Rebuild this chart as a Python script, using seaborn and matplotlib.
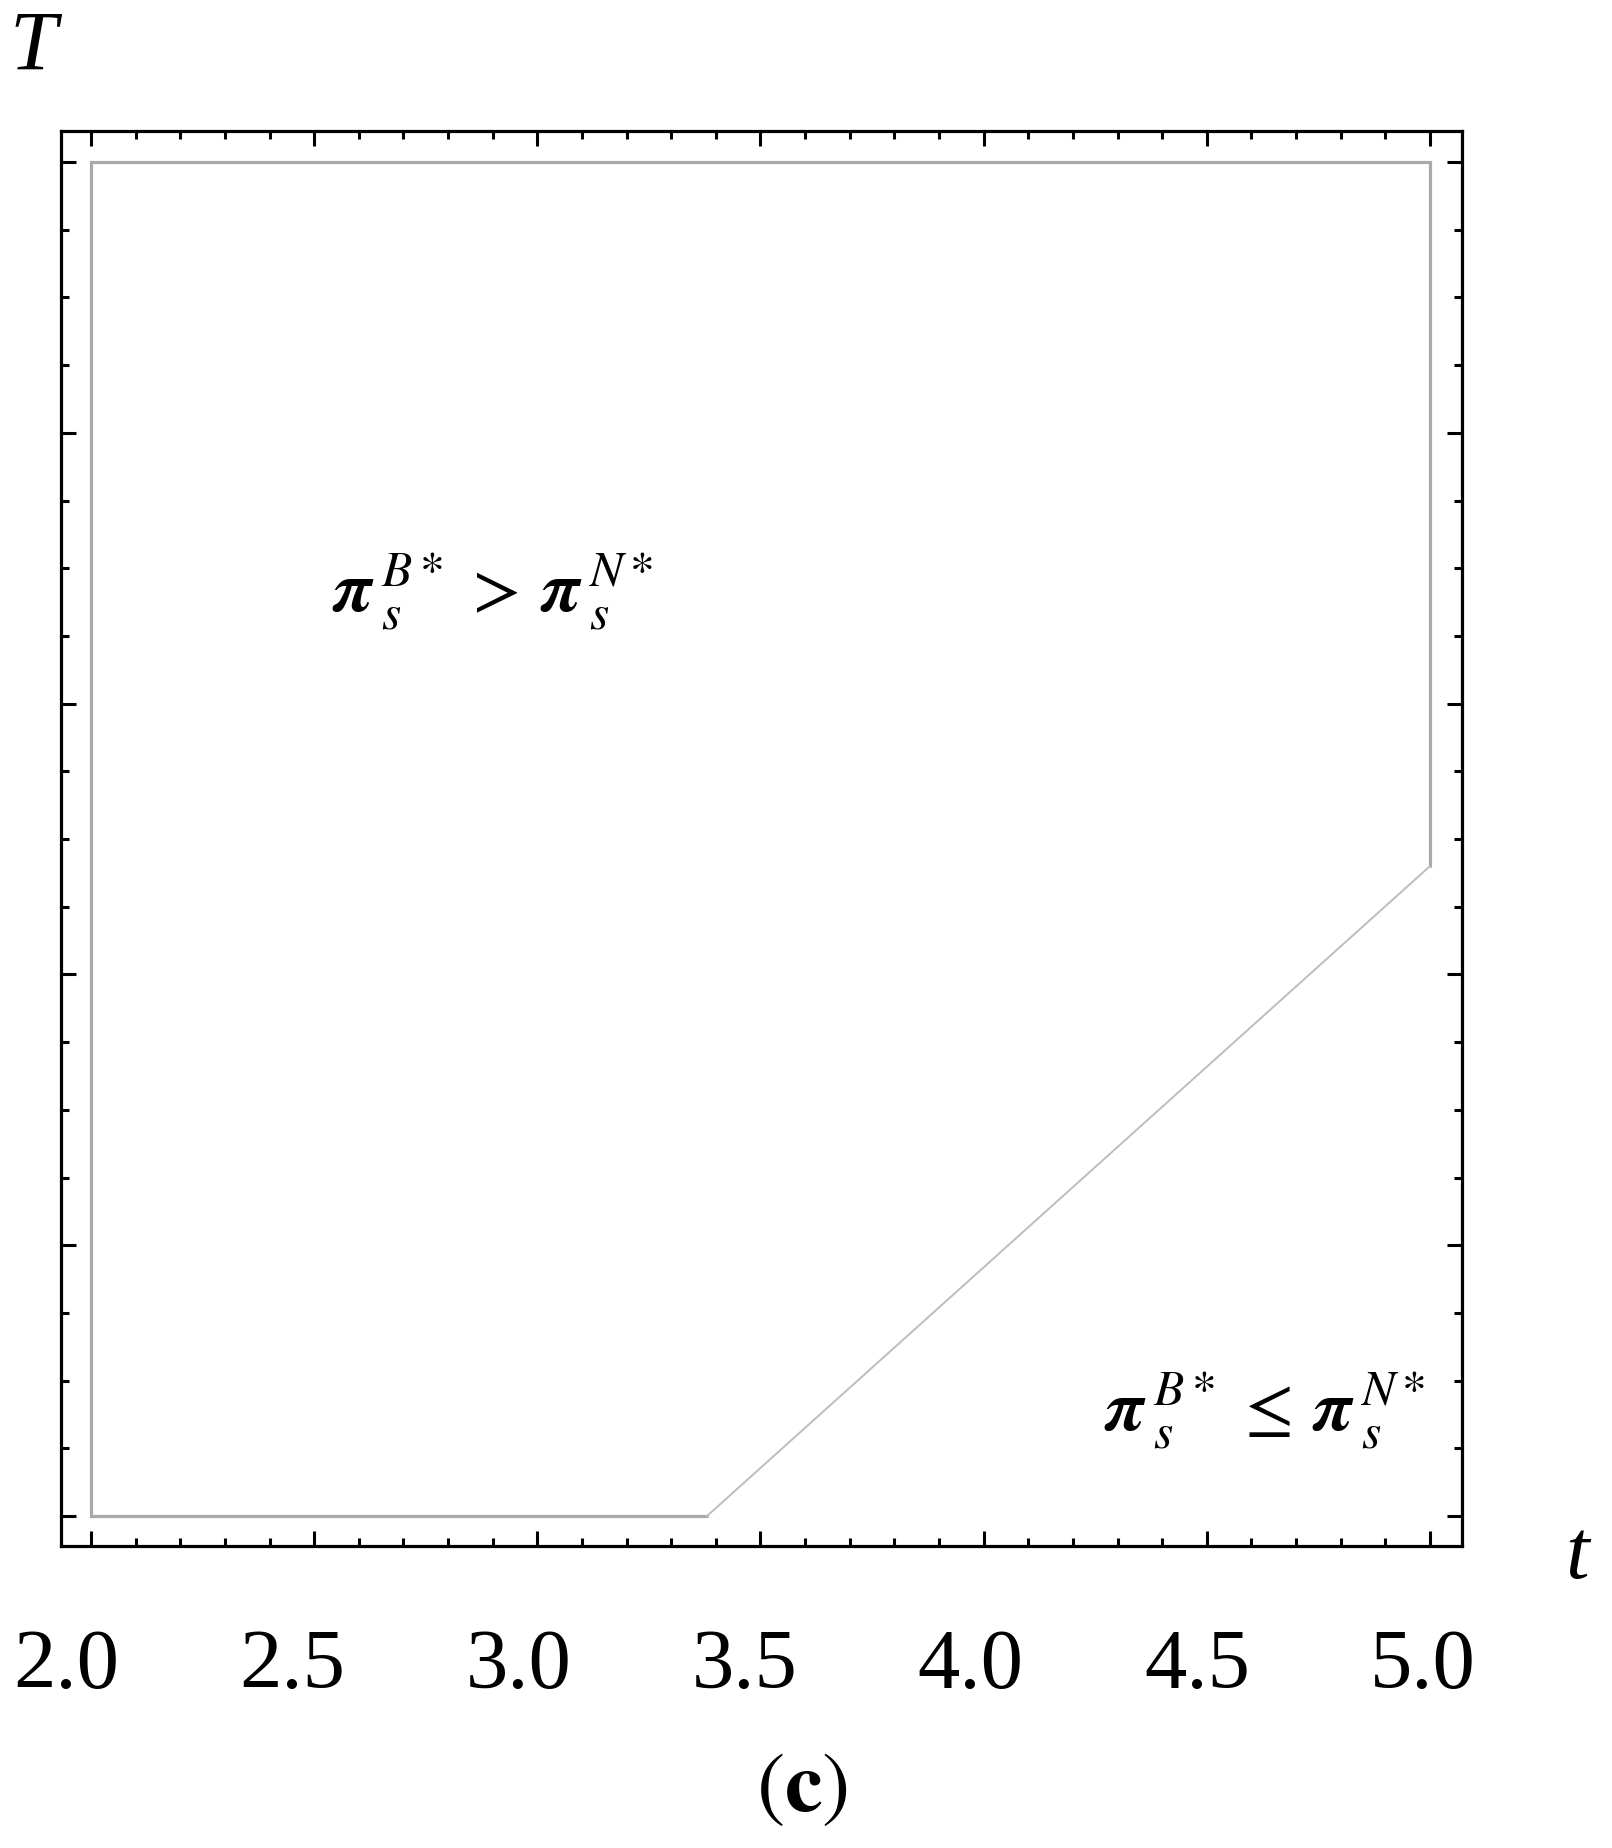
import numpy as np
import pandas as pd
import matplotlib
matplotlib.use("Agg")
import matplotlib.pyplot as plt
import matplotlib.transforms as mtransforms
from matplotlib.ticker import MultipleLocator
import seaborn as sns

# ---- data ----
edge_t = [3.38, 2.0, 2.0, 5.0, 5.0]      # straight part of the region boundary
edge_T = [0.0, 0.0, 1.0, 1.0, 0.48]
diag_t = [5.0, 3.38]                      # sloped part of the boundary
diag_T = [0.48, 0.0]
xtick_values = [2.0, 2.5, 3.0, 3.5, 4.0, 4.5, 5.0]
xtick_labels = ["2.0", "2.5", "3.0", "3.5", "4.0", "4.5", "5.0"]
region_upper = r"${\boldsymbol{\pi}\,}_{s}^{B*}\,>\,{\boldsymbol{\pi}\,}_{s}^{N*}$"
region_lower = r"${\boldsymbol{\pi}\,}_{s}^{B*}\,\leq\,{\boldsymbol{\pi}\,}_{s}^{N*}$"

sns.set_theme(style="white")
plt.rcParams["font.family"] = ["Liberation Serif", "DejaVu Serif"]
plt.rcParams["mathtext.fontset"] = "stix"
plt.rcParams["text.color"] = "black"
plt.rcParams["xtick.color"] = "black"
plt.rcParams["ytick.color"] = "black"
plt.rcParams["xtick.labelcolor"] = "black"

W, H, DPI = 1612, 1849, 100
fig = plt.figure(figsize=(W / DPI, H / DPI), dpi=DPI)
fig.patch.set_facecolor("white")

L, R, Tp, B = 61, 1462, 132, 1547
ax = fig.add_axes([L / W, 1 - B / H, (R - L) / W, (B - Tp) / H])
ax.set_facecolor("white")

df_edge = pd.DataFrame({"t": edge_t, "T": edge_T})
df_diag = pd.DataFrame({"t": diag_t, "T": diag_T})
sns.lineplot(data=df_edge, x="t", y="T", sort=False, estimator=None,
             color="#a9a9a9", lw=2.3, ax=ax, solid_joinstyle="miter")
sns.lineplot(data=df_diag, x="t", y="T", sort=False, estimator=None,
             color="#bdbdbd", lw=1.4, ax=ax)

ax.set_xlim(1.9328, 5.0717)
ax.set_ylim(-0.0221, 1.0229)
ax.set_xlabel("")
ax.set_ylabel("")

for sp in ax.spines.values():
    sp.set_visible(True)
    sp.set_color("black")
    sp.set_linewidth(2.3)

ax.set_xticks(xtick_values)
ax.set_xticklabels(xtick_labels)
ax.xaxis.set_minor_locator(MultipleLocator(0.1))
ax.yaxis.set_major_locator(MultipleLocator(0.2))
ax.yaxis.set_minor_locator(MultipleLocator(0.05))
ax.tick_params(which="both", direction="in", top=True, right=True,
               bottom=True, left=True, color="black", width=2.2)
ax.tick_params(which="major", length=11)
ax.tick_params(which="minor", length=6)
ax.tick_params(axis="x", which="major", labelsize=61, pad=59, labelcolor="black")
ax.tick_params(axis="y", labelleft=False, labelright=False)

# label positions in the reference are spread slightly wider than the ticks
for v, lab in zip(xtick_values, ax.get_xticklabels()):
    dx = (-25 + (v - 2.0) * 6) / DPI
    off = mtransforms.ScaledTranslation(dx, 0, fig.dpi_scale_trans)
    lab.set_transform(lab.get_transform() + off)
    lab.set_color("black")

ax.text(2.90, 0.684, region_upper, fontsize=51, ha="center", va="center", color="black")
ax.text(4.63, 0.079, region_lower, fontsize=51, ha="center", va="center", color="black")

fig.text(9 / W, 1 - 70 / H, "T", fontsize=61, style="italic", ha="left", va="baseline",
         color="black")
fig.text(1577 / W, 1 - 1578 / H, "t", fontsize=61, style="italic", ha="center",
         va="baseline", color="black")
fig.text(802 / W, 1 - 1811 / H, r"$\mathrm{(}\mathbf{c}\mathrm{)}$", fontsize=61,
         ha="center", va="baseline", color="black")

fig.savefig("out.png", dpi=DPI, facecolor="white")
